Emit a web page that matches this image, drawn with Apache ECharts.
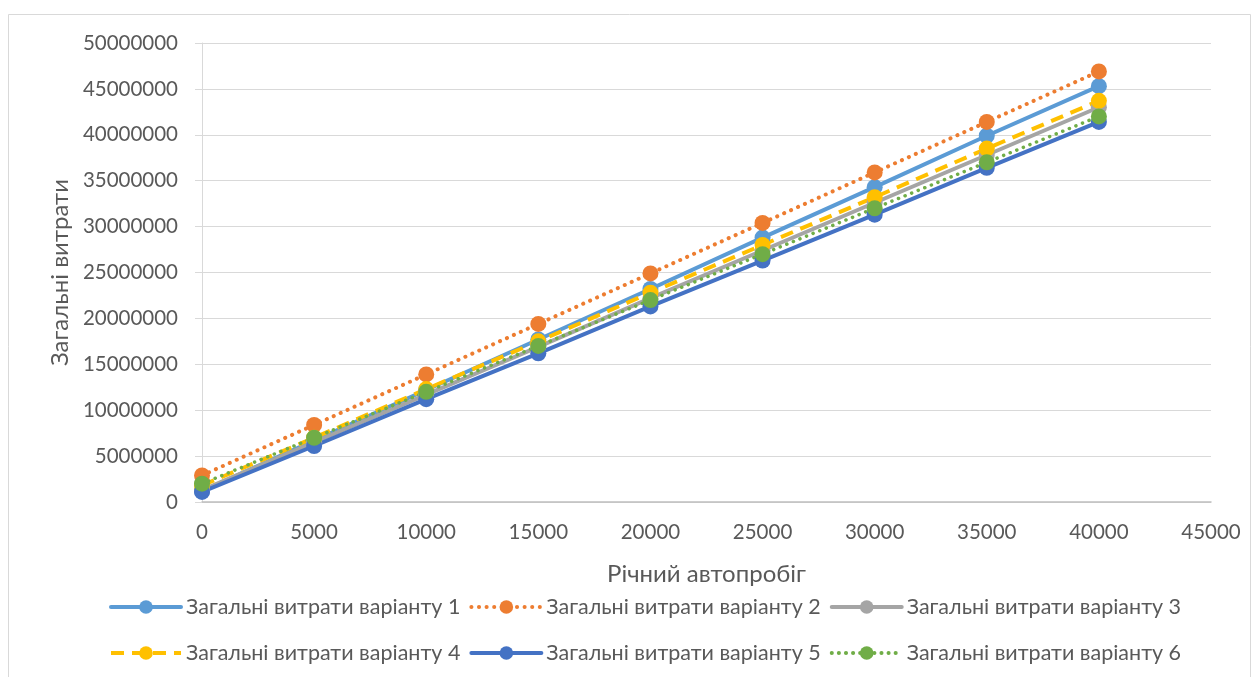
<!DOCTYPE html>
<html><head><meta charset="utf-8">
<script src="https://cdn.jsdelivr.net/npm/echarts@6/dist/echarts.min.js"></script>
<style>html,body{margin:0;padding:0;background:#fff}#c{width:1260px;height:677px}</style>
</head><body><div id="c"></div>
<script>
const mileage = [0, 5000, 10000, 15000, 20000, 25000, 30000, 35000, 40000];
const seriesNames = [
  'Загальні витрати варіанту 1','Загальні витрати варіанту 2','Загальні витрати варіанту 3',
  'Загальні витрати варіанту 4','Загальні витрати варіанту 5','Загальні витрати варіанту 6'
];
const v1 = [1200000, 6700000, 12200000, 17700000, 23200000, 28800000, 34300000, 39900000, 45300000];
const v2 = [2900000, 8400000, 13900000, 19400000, 24900000, 30400000, 35900000, 41400000, 46900000];
const v3 = [1300000, 6500000, 11700000, 16900000, 22200000, 27400000, 32600000, 37800000, 43000000];
const v4 = [1800000, 7000000, 12300000, 17500000, 22800000, 28000000, 33200000, 38500000, 43700000];
const v5 = [1100000, 6100000, 11200000, 16200000, 21300000, 26300000, 31300000, 36400000, 41400000];
const v6 = [2000000, 7000000, 12000000, 17000000, 22000000, 27000000, 32000000, 37000000, 42000000];
const values = [v1, v2, v3, v4, v5, v6];
const colors = ['#5B9BD5','#ED7D31','#A5A5A5','#FFC000','#4472C4','#70AD47'];
const dashes = ['solid',[0.1,7.5],'solid',[13,8],'solid',[0.1,7]];
const caps = ['round','round','round','butt','round','round'];
const widths = [4,4,4,4,4,3.5];
const font = 'Lato, "Open Sans", sans-serif';

const chart = echarts.init(document.getElementById('c'));
const series = values.map((vals, i) => ({
  name: seriesNames[i],
  type: 'line',
  data: mileage.map((m, j) => [m, vals[j]]),
  symbol: 'circle',
  symbolSize: 16,
  itemStyle: {color: colors[i]},
  lineStyle: {color: colors[i], width: widths[i], type: dashes[i], cap: caps[i]},
  emphasis: {disabled: true},
  animation: false
}));
const legendBase = {
  left: 104, itemWidth: 70, itemHeight: 17, itemGap: 9,
  lineStyle: {width: 4},
  textStyle: {fontFamily: font, fontSize: 21.5, color: '#595959'}
};
chart.setOption({
  backgroundColor: '#fff',
  animation: false,
  graphic: [{type: 'rect', shape: {x: 8.5, y: 14.5, width: 1242, height: 700}, style: {fill: 'none', stroke: '#d9d9d9', lineWidth: 1}, silent: true}],
  grid: {left: 202, right: 49, top: 43, bottom: 175},
  xAxis: {
    type: 'value', min: 0, max: 45000, interval: 5000,
    name: 'Річний автопробіг', nameLocation: 'middle', nameGap: 60,
    nameTextStyle: {fontFamily: font, fontSize: 24, color: '#595959'},
    axisLine: {show: true, lineStyle: {color: '#bfbfbf', width: 1.5}},
    axisTick: {show: false},
    splitLine: {show: false},
    axisLabel: {fontFamily: font, fontSize: 20.5, color: '#595959', margin: 20, formatter: v => String(v)}
  },
  yAxis: {
    type: 'value', min: 0, max: 50000000, interval: 5000000,
    name: 'Загальні витрати', nameLocation: 'middle', nameGap: 130,
    nameTextStyle: {fontFamily: font, fontSize: 24, color: '#595959'},
    axisLine: {show: true, lineStyle: {color: '#d9d9d9'}},
    axisTick: {show: true, length: 7, lineStyle: {color: '#d9d9d9'}},
    splitLine: {lineStyle: {color: '#d9d9d9', width: 1.2}},
    axisLabel: {fontFamily: font, fontSize: 20.5, color: '#595959', margin: 24, formatter: v => String(v)}
  },
  legend: [
    Object.assign({}, legendBase, {top: 591, data: seriesNames.slice(0, 3)}),
    Object.assign({}, legendBase, {top: 637, data: seriesNames.slice(3, 6)})
  ],
  series: series
});
</script></body></html>
